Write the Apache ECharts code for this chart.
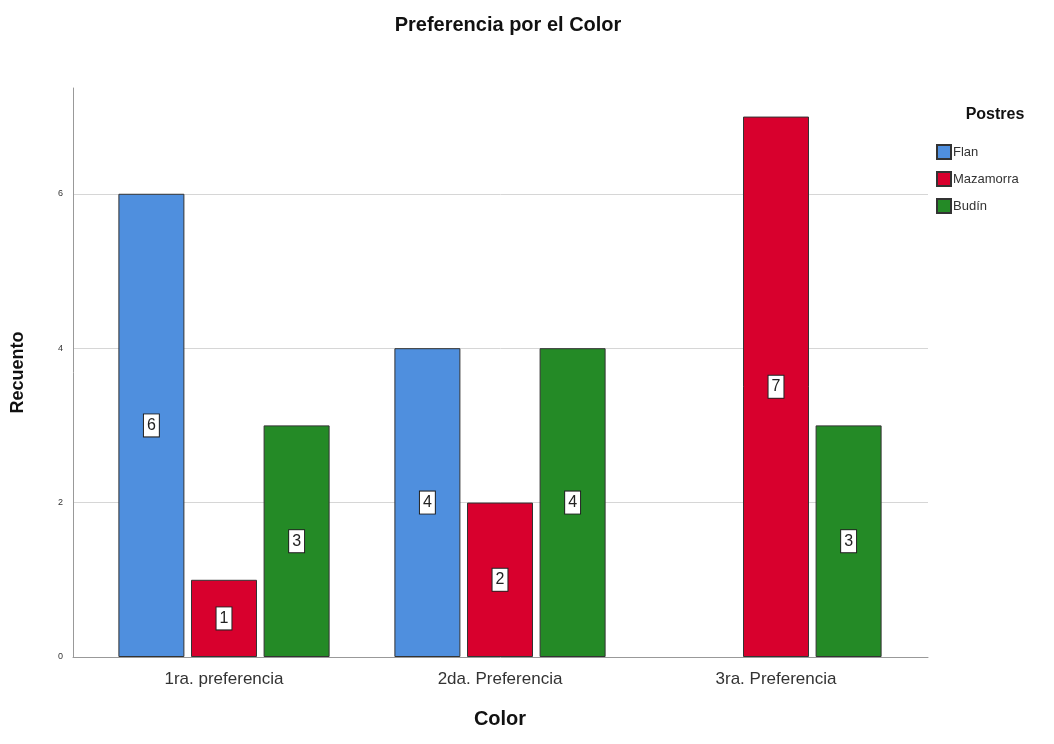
<!DOCTYPE html>
<html>
<head>
<meta charset="utf-8">
<script src="https://cdn.jsdelivr.net/npm/echarts@6/dist/echarts.min.js"></script>
<style>
  html, body { margin: 0; padding: 0; background: #fff; }
  #main { width: 1054px; height: 744px; }
</style>
</head>
<body>
<div id="main"></div>
<script>
var categories = ['1ra. preferencia', '2da. Preferencia', '3ra. Preferencia']
var flan = [6, 4, 0]
var mazamorra = [1, 2, 7]
var budin = [3, 4, 3]
var seriesNames = ['Flan', 'Mazamorra', 'Budín']
var yTicks = [0, 2, 4, 6]

var colors = ['#4f8fde', '#d8002d', '#248a26']

var labelStyle = {
    show: true,
    position: 'inside',
    color: '#222',
    fontSize: 16,
    fontFamily: 'Liberation Sans',
    backgroundColor: '#fff',
    borderColor: '#222',
    borderWidth: 1,
    padding: [4, 3, 2, 3]
}

// empty counts are not drawn at all
var toData = function (arr) {
    return arr.map(function (v) {
        if (v > 0) return v
        return { value: v, itemStyle: { borderWidth: 0 }, label: { show: false } }
    })
}

var mkSeries = function (name, data, i) {
    return {
        name: name,
        type: 'bar',
        xAxisIndex: 1,
        yAxisIndex: 1,
        barWidth: 66,
        barGap: '10%',
        data: toData(data),
        itemStyle: { color: colors[i], borderColor: '#333', borderWidth: 1 },
        label: labelStyle
    }
}

var chart = echarts.init(document.getElementById('main'))
chart.setOption({
    animation: false,
    textStyle: { fontFamily: 'Liberation Sans' },
    title: [{
        text: 'Preferencia por el Color',
        left: 503, top: 10, textAlign: 'center',
        textStyle: { fontSize: 20, fontWeight: 'bold', color: '#111' }
    }, {
        text: 'Postres',
        left: 990, top: 102, textAlign: 'center',
        textStyle: { fontSize: 16, fontWeight: 'bold', color: '#111' }
    }],
    legend: {
        data: seriesNames,
        orient: 'vertical',
        left: 931, top: 139,
        itemWidth: 14, itemHeight: 14, itemGap: 11,
        icon: 'rect',
        textStyle: { fontSize: 13, color: '#333', padding: [0, 0, 0, -3] }
    },
    grid: [
        { left: 73, right: 126, top: 88, bottom: 87 },
        { left: 86, right: 140, top: 88, bottom: 87 }
    ],
    xAxis: [{
        type: 'value', gridIndex: 0, min: 0, max: 1,
        axisLine: { show: true, lineStyle: { color: '#999' } },
        axisTick: { show: false }, axisLabel: { show: false }, splitLine: { show: false }
    }, {
        type: 'category', gridIndex: 1, data: categories,
        name: 'Color', nameLocation: 'middle', nameGap: 52,
        nameTextStyle: { fontSize: 20, fontWeight: 'bold', color: '#111' },
        axisLine: { show: false }, axisTick: { show: false },
        axisLabel: { fontSize: 17, color: '#333', margin: 14 }
    }],
    yAxis: [{
        type: 'value', gridIndex: 0, min: 0, max: 7.37, interval: 2,
        name: 'Recuento', nameLocation: 'middle', nameGap: 46,
        nameTextStyle: { fontSize: 18, fontWeight: 'bold', color: '#111' },
        axisLine: { show: true, lineStyle: { color: '#999' } },
        axisTick: { show: false },
        axisLabel: {
            fontSize: 9, color: '#333', margin: 10,
            formatter: function (v) { return yTicks.indexOf(v) >= 0 ? v : '' }
        },
        splitLine: { lineStyle: { color: ['transparent', '#d6d6d6', '#d6d6d6', '#d6d6d6', 'transparent'] } }
    }, {
        type: 'value', gridIndex: 1, min: 0, max: 7.37, show: false
    }],
    series: [
        mkSeries(seriesNames[0], flan, 0),
        mkSeries(seriesNames[1], mazamorra, 1),
        mkSeries(seriesNames[2], budin, 2)
    ]
})
</script>
</body>
</html>
